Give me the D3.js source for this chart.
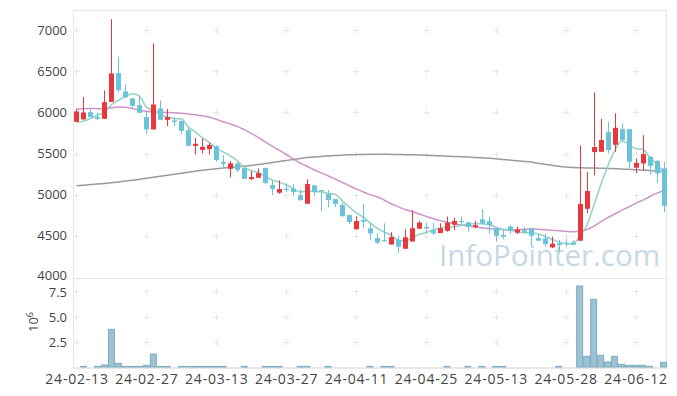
<!DOCTYPE html>
<html><head><meta charset="utf-8">
<script src="https://cdn.jsdelivr.net/npm/d3@7"></script>
<style>
body{margin:0;background:#fff}
svg text{font-family:"Open Sans","Noto Sans",sans-serif}
</style>
</head><body>
<svg id="c" width="677" height="396"></svg>
<script>
const dates = ["24-02-13","24-02-14","24-02-15","24-02-16","24-02-19","24-02-20","24-02-21","24-02-22","24-02-23","24-02-26",
"24-02-27","24-02-28","24-02-29","24-03-04","24-03-05","24-03-06","24-03-07","24-03-08","24-03-11","24-03-12",
"24-03-13","24-03-14","24-03-15","24-03-18","24-03-19","24-03-20","24-03-21","24-03-22","24-03-25","24-03-26",
"24-03-27","24-03-28","24-03-29","24-04-01","24-04-02","24-04-03","24-04-04","24-04-05","24-04-08","24-04-09",
"24-04-11","24-04-12","24-04-15","24-04-16","24-04-17","24-04-18","24-04-19","24-04-22","24-04-23","24-04-24",
"24-04-25","24-04-26","24-04-29","24-04-30","24-05-02","24-05-03","24-05-07","24-05-08","24-05-09","24-05-10",
"24-05-13","24-05-14","24-05-16","24-05-17","24-05-20","24-05-21","24-05-22","24-05-23","24-05-24","24-05-27",
"24-05-28","24-05-29","24-05-30","24-05-31","24-06-03","24-06-04","24-06-05","24-06-07","24-06-10","24-06-11",
"24-06-12","24-06-13","24-06-14","24-06-17","24-06-18"];

const openP = [5885,5914,6002,5945,5921,6127,6476,6254,6169,6087,5942,5792,6047,5909,5902,5893,5784,5593,5545,5553,
5590,5396,5314,5380,5323,5189,5205,5323,5117,5023,5072,5072,4995,4890,5113,5056,5007,4947,4877,4752,
4579,4692,4591,4473,4449,4394,4453,4343,4431,4586,4609,4567,4534,4561,4635,4680,4664,4607,4700,4677,
4591,4510,4613,4538,4570,4591,4473,4469,4360,4409,4416,4421,4441,4829,5517,5521,5760,5606,5796,5796,
5327,5380,5460,5408,5319];
const highP = [6039,6184,6035,5999,6266,7131,6678,6339,6169,6197,6000,6836,6144,6039,5938,5900,5817,5691,5683,5630,
5600,5481,5408,5399,5359,5286,5319,5330,5177,5174,5137,5125,5064,5186,5113,5056,5056,4947,4898,4760,
4737,4890,4660,4530,4650,4544,4500,4579,4809,4683,4661,4659,4652,4735,4720,4732,4671,4680,4822,4732,
4600,4579,4630,4610,4610,4600,4522,4522,4489,4449,4458,4449,5598,5274,6241,5921,5885,5987,5865,5800,
5441,5723,5465,5420,5399];
const lowP = [5885,5914,5942,5905,5921,6127,6249,6169,6047,5994,5735,5792,5909,5833,5833,5732,5593,5489,5501,5489,
5399,5311,5210,5274,5189,5180,5205,5125,4995,5011,5035,4987,4925,4890,4983,4801,4846,4846,4725,4643,
4575,4600,4449,4400,4428,4394,4295,4343,4431,4586,4530,4510,4534,4549,4570,4631,4550,4591,4640,4530,
4427,4458,4522,4522,4530,4380,4441,4368,4350,4295,4368,4388,4441,4773,5234,5516,5501,5521,5650,5319,
5259,5290,5246,5144,4785];
const closeP = [6011,5999,5942,5921,6124,6472,6269,6184,6079,5994,5792,6096,5909,5942,5885,5775,5593,5618,5581,5602,
5420,5375,5380,5299,5193,5214,5262,5144,5072,5068,5056,5032,4934,5129,5032,5044,4934,4886,4740,4667,
4680,4671,4530,4416,4437,4485,4368,4482,4592,4661,4589,4530,4592,4659,4680,4667,4607,4629,4655,4631,
4501,4489,4562,4576,4550,4501,4441,4400,4404,4388,4404,4392,4886,5044,5578,5663,5541,5812,5663,5399,
5387,5493,5351,5259,4865];
// volume in millions of shares
const volume = [0,0.06,0,0.06,0.2,3.73,0.37,0.06,0.06,0.06,0.17,1.29,0.06,0.06,0,0.06,0.06,0.06,0.06,0.06,
0.06,0.06,0,0,0.06,0,0,0.06,0.06,0.06,0,0,0.06,0.06,0,0,0.06,0,0,0,
0,0,0.06,0,0.06,0.06,0,0,0,0,0,0,0,0.06,0,0,0.06,0,0.06,0,
0.06,0.06,0,0,0,0,0,0,0,0.06,0,0,8.02,1.06,6.70,1.16,0.50,1.06,0.27,0.17,
0.17,0.17,0.06,0,0.47];
const ma5 = [5877,5893,5926,5966,5999,6092,6146,6194,6226,6200,6064,6029,5974,5947,5925,5921,5821,5763,5690,5634,
5563,5519,5472,5415,5333,5292,5270,5222,5177,5152,5120,5074,5032,5044,5037,5034,5015,5005,4927,4854,
4781,4729,4658,4593,4547,4508,4447,4438,4473,4518,4538,4571,4593,4606,4610,4626,4641,4648,4648,4638,
4605,4581,4568,4552,4536,4536,4526,4494,4459,4427,4407,4398,4495,4623,4861,5113,5342,5528,5651,5616,
5560,5551,5459,5378,5271];
const ma20 = [6040,6045,6047,6045,6042,6055,6065,6062,6045,6025,6012,6005,6002,5999,5995,5988,5980,5970,5958,5940,
5915,5885,5858,5830,5790,5745,5695,5642,5590,5540,5490,5435,5385,5345,5303,5265,5230,5190,5150,5110,
5070,5035,5000,4975,4935,4890,4855,4820,4798,4765,4738,4710,4685,4665,4648,4630,4618,4607,4598,4588,
4580,4576,4572,4575,4580,4582,4580,4575,4568,4562,4555,4550,4552,4575,4615,4670,4720,4765,4810,4850,
4895,4930,4975,5015,5050];
const ma120 = [5108,5115,5122,5130,5137,5145,5155,5165,5175,5188,5200,5212,5224,5235,5247,5260,5272,5285,5296,5306,
5315,5323,5330,5337,5345,5355,5366,5378,5390,5403,5415,5428,5440,5450,5458,5465,5470,5475,5480,5484,
5487,5489,5490,5490,5490,5489,5488,5486,5484,5481,5478,5475,5472,5468,5465,5461,5457,5452,5447,5442,
5436,5428,5420,5412,5404,5396,5382,5370,5358,5345,5335,5330,5327,5325,5323,5321,5319,5316,5312,5308,
5304,5300,5294,5286,5278];
const priceTicks = [4000,4500,5000,5500,6000,6500,7000];
const volTicks = [2.5,5.0,7.5];
const xTickLabels = ["24-02-13","24-02-27","24-03-13","24-03-27","24-04-11","24-04-25","24-05-13","24-05-28","24-06-12"];

const svg = d3.select("#c");
const L = 73, R = 667, pTop = 10, pBot = 278, vBot = 367;
const x = d3.scaleBand().domain(dates).range([L, R]).padding(0);
const y = d3.scaleLinear().domain([4000, 7000]).range([277, 30]);
const vy = d3.scaleLinear().domain([0, 7.5]).range([vBot, 291.3]);
const cx = d => x(d) + x.bandwidth() / 2;

const UP = "#e8383d", DOWN = "#6ac3d9", GRID = "#e6e6e6";

// frames
svg.append("rect").attr("x", L + 0.5).attr("y", pTop + 0.5).attr("width", R - L - 1).attr("height", pBot - pTop)
  .attr("fill", "none").attr("stroke", "#e6e6e6");
svg.append("line").attr("x1", L + 0.5).attr("x2", L + 0.5).attr("y1", pBot).attr("y2", vBot + 1).attr("stroke", "#e6e6e6");
svg.append("line").attr("x1", R - 0.5).attr("x2", R - 0.5).attr("y1", pBot).attr("y2", vBot + 1).attr("stroke", "#e6e6e6");
svg.append("line").attr("x1", L).attr("x2", R).attr("y1", vBot + 1).attr("y2", vBot + 1).attr("stroke", "#e0e0e0").attr("stroke-width", 1.5);

// grid crosses
const cross = (g, px, py) => {
  g.append("line").attr("x1", px - 3).attr("x2", px + 3).attr("y1", py).attr("y2", py).attr("stroke", GRID);
  g.append("line").attr("x1", px).attr("x2", px).attr("y1", py - 3).attr("y2", py + 3).attr("stroke", GRID);
};
const gGrid = svg.append("g");
xTickLabels.forEach(t => {
  priceTicks.filter(v => v > 4000).forEach(v => cross(gGrid, Math.round(cx(t)) + 0.5, Math.round(y(v)) + 0.5));
  volTicks.forEach(v => cross(gGrid, Math.round(cx(t)) + 0.5, Math.round(vy(v)) + 0.5));
});

// watermark
svg.append("text").attr("x", 660).attr("y", 266).attr("text-anchor", "end")
  .attr("font-size", 29.5).attr("fill", "#c6d9e4").text("InfoPointer.com");

// axis labels
const axG = svg.append("g").attr("font-size", 13).attr("fill", "#444");
priceTicks.forEach(v => axG.append("text").attr("x", 67).attr("y", y(v) + (v === 4000 ? 2.5 : 4.5)).attr("text-anchor", "end").text(v));
volTicks.forEach(v => axG.append("text").attr("x", 67).attr("y", vy(v) + (v === 7.5 ? 5.5 : 5)).attr("text-anchor", "end").text(d3.format(".1f")(v)));
xTickLabels.forEach(t => axG.append("text").attr("x", cx(t) + 0.5).attr("y", 384).attr("text-anchor", "middle")
  .attr("font-size", 14).attr("letter-spacing", 0.8).text(t));
const yl = axG.append("text").attr("transform", "translate(38,322) rotate(-90)").attr("text-anchor", "middle");
yl.append("tspan").text("10");
yl.append("tspan").attr("dy", -5).attr("font-size", 9).text("6");

// volume bars
svg.append("g").selectAll("rect").data(dates.map((d, i) => ({d, v: volume[i]})).filter(o => o.v > 0))
  .join("rect")
  .attr("x", o => x(o.d) + 0.5).attr("width", x.bandwidth() - 1)
  .attr("y", o => vy(o.v)).attr("height", o => Math.max(0.5, vBot - vy(o.v)))
  .attr("fill", "#9cc2d3").attr("stroke", "#7fadc2").attr("stroke-width", 1);

// moving averages
const line = arr => d3.line().x((v, i) => cx(dates[i])).y(v => y(v)).curve(d3.curveMonotoneX)(arr);
svg.append("path").attr("d", line(ma120)).attr("fill", "none").attr("stroke", "#8f8f8f").attr("stroke-width", 1.5).attr("opacity", 0.9);
svg.append("path").attr("d", line(ma20)).attr("fill", "none").attr("stroke", "#c888c6").attr("stroke-width", 1.5).attr("opacity", 0.9);
svg.append("path").attr("d", line(ma5)).attr("fill", "none").attr("stroke", "#8ccfc1").attr("stroke-width", 1.5).attr("opacity", 0.95);

// candles
const cg = svg.append("g");
dates.forEach((d, i) => {
  const up = closeP[i] >= openP[i];
  const col = up ? UP : DOWN;
  const xc = Math.round(cx(d)) + 0.5;
  cg.append("line").attr("x1", xc).attr("x2", xc).attr("y1", y(highP[i])).attr("y2", y(lowP[i]))
    .attr("stroke", col).attr("stroke-width", 1);
  const top = y(Math.max(openP[i], closeP[i])), bot = y(Math.min(openP[i], closeP[i]));
  cg.append("rect").attr("x", xc - 2.5).attr("width", 5).attr("y", top).attr("height", Math.max(1, bot - top))
    .attr("fill", col);
});
</script>
</body></html>
